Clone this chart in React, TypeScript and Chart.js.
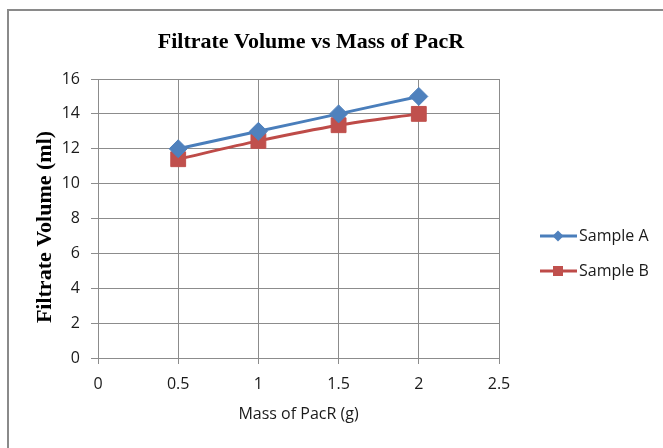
import React, { useEffect, useRef } from 'react';
import { Chart, registerables } from 'chart.js';

Chart.register(...registerables);

const chartTitle = 'Filtrate Volume vs Mass of PacR';
const xAxisTitle = 'Mass of PacR (g)';
const yAxisTitle = 'Filtrate Volume (ml)';
const massValues = [0.5, 1, 1.5, 2];
const sampleA = [12, 13, 14, 15];
const sampleB = [11.4, 12.45, 13.35, 14.0];
const seriesNames = ['Sample A', 'Sample B'];
const xMin = 0;
const xMax = 2.5;
const xStep = 0.5;
const yMin = 0;
const yMax = 16;
const yStep = 2;

const SANS = '"Open Sans", "Noto Sans", sans-serif';
const SERIF = '"Liberation Serif", "DejaVu Serif", serif';
const GRID = '#8c8c8c';
const TEXT = '#1a1a1a';

const decorPlugin = {
  id: 'decor',
  beforeDraw(chart: any) {
    const ctx = chart.ctx;
    ctx.save();
    ctx.fillStyle = '#ffffff';
    ctx.fillRect(0, 0, chart.width, chart.height);
    ctx.strokeStyle = '#8a8a8a';
    ctx.lineWidth = 2;
    ctx.beginPath();
    ctx.moveTo(8, chart.height);
    ctx.lineTo(8, 10);
    ctx.lineTo(chart.width, 10);
    ctx.stroke();
    ctx.restore();
  },
  afterDraw(chart: any) {
    const ctx = chart.ctx;
    ctx.save();
    // chart title
    ctx.fillStyle = '#000';
    ctx.font = `bold 22px ${SERIF}`;
    ctx.textAlign = 'center';
    ctx.textBaseline = 'middle';
    ctx.fillText(chartTitle, 311, 42);
    // y axis title
    ctx.save();
    ctx.translate(45, 227);
    ctx.rotate(-Math.PI / 2);
    ctx.fillText(yAxisTitle, 0, 0);
    ctx.restore();
    // legend
    const legendY = [236, 271];
    chart.data.datasets.forEach((ds: any, i: number) => {
      const y = legendY[i];
      ctx.strokeStyle = ds.borderColor;
      ctx.lineWidth = 3;
      ctx.beginPath();
      ctx.moveTo(540, y);
      ctx.lineTo(577, y);
      ctx.stroke();
      ctx.fillStyle = ds.pointBackgroundColor;
      const cx = 558;
      if (ds.pointStyle === 'rectRot') {
        const r = 5.5;
        ctx.beginPath();
        ctx.moveTo(cx, y - r);
        ctx.lineTo(cx + r, y);
        ctx.lineTo(cx, y + r);
        ctx.lineTo(cx - r, y);
        ctx.closePath();
        ctx.fill();
      } else {
        const h = 5;
        ctx.fillRect(cx - h, y - h, 2 * h, 2 * h);
      }
      ctx.fillStyle = TEXT;
      ctx.font = `16px ${SANS}`;
      ctx.textAlign = 'left';
      ctx.textBaseline = 'middle';
      ctx.fillText(ds.label, 579, y);
    });
    ctx.restore();
  },
};

export default function App() {
  const ref = useRef<HTMLCanvasElement | null>(null);
  useEffect(() => {
    if (!ref.current) return;
    const chart = new Chart(ref.current, {
      type: 'scatter',
      data: {
        datasets: [
          {
            label: seriesNames[0],
            data: massValues.map((x, i) => ({ x, y: sampleA[i] })),
            showLine: true,
            borderColor: '#4A7EBB',
            borderWidth: 3,
            tension: 0.3,
            pointStyle: 'rectRot',
            pointRadius: 9,
            pointBackgroundColor: '#4F81BD',
            pointBorderColor: '#4F81BD',
            pointBorderWidth: 1,
          },
          {
            label: seriesNames[1],
            data: massValues.map((x, i) => ({ x, y: sampleB[i] })),
            showLine: true,
            borderColor: '#BE4B48',
            borderWidth: 3,
            tension: 0.3,
            pointStyle: 'rect',
            pointRadius: 10.5,
            pointBackgroundColor: '#C0504D',
            pointBorderColor: '#C0504D',
            pointBorderWidth: 1,
          },
        ],
      },
      options: {
        animation: false,
        responsive: false,
        devicePixelRatio: 1,
        layout: { padding: { left: 0, right: 164, top: 79, bottom: 0 } },
        plugins: {
          legend: { display: false },
          title: { display: false },
          tooltip: { enabled: false },
        },
        scales: {
          x: {
            type: 'linear',
            min: xMin,
            max: xMax,
            ticks: {
              stepSize: xStep,
              padding: 11,
              color: TEXT,
              font: { family: SANS, size: 16 },
              callback: (v: any) => String(Number(v)),
            },
            grid: { color: GRID, tickLength: 6, lineWidth: 1 },
            border: { color: GRID, width: 1 },
            title: {
              display: true,
              text: xAxisTitle,
              color: TEXT,
              font: { family: SANS, size: 16 },
              padding: { top: 0, bottom: 24 },
            },
            afterFit: (s: any) => {
              s.height = 90;
            },
          },
          y: {
            min: yMin,
            max: yMax,
            ticks: {
              stepSize: yStep,
              padding: 11,
              color: TEXT,
              font: { family: SANS, size: 16 },
              callback: (v: any) => String(Number(v)),
            },
            grid: { color: GRID, tickLength: 7, lineWidth: 1 },
            border: { color: GRID, width: 1 },
            afterFit: (s: any) => {
              s.width = 98;
            },
          },
        },
      },
      plugins: [decorPlugin],
    } as any);
    return () => chart.destroy();
  }, []);
  return (
    <div style={{ position: 'fixed', left: 0, top: 0, width: 663, height: 448, background: '#fff' }}>
      <canvas ref={ref} width={663} height={448} style={{ display: 'block' }} />
    </div>
  );
}
